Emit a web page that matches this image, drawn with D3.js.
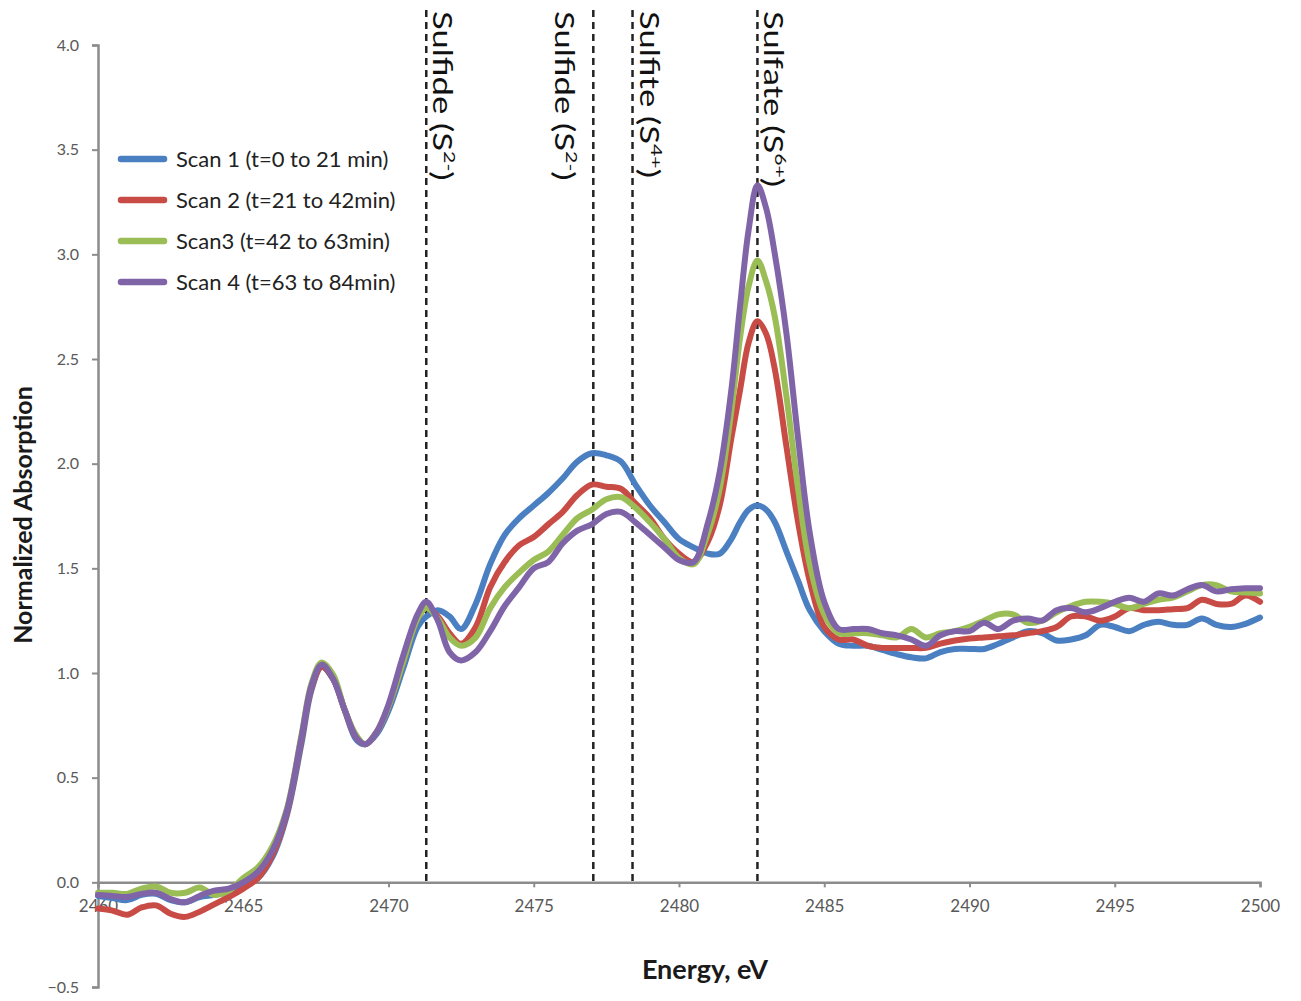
<!DOCTYPE html>
<html>
<head>
<meta charset="utf-8">
<script src="https://cdn.jsdelivr.net/npm/d3@7"></script>
<style>
  body { margin: 0; background: #fff; }
  svg { display: block; }
</style>
</head>
<body>
<svg id="chart" width="1301" height="1001"></svg>
<script>
// ---------- DATA ----------
const energy = [2460, 2460.5, 2461, 2461.5, 2462, 2462.5, 2463, 2463.5, 2464, 2464.5, 2465, 2465.5, 2466, 2466.5, 2467, 2467.35, 2467.7, 2468.1, 2468.5, 2468.9, 2469.2, 2469.6, 2470, 2470.5, 2471, 2471.3, 2471.7, 2472.1, 2472.5, 2473, 2473.5, 2474, 2474.5, 2475, 2475.5, 2476, 2476.5, 2477, 2477.5, 2478, 2478.5, 2479, 2479.5, 2480, 2480.5, 2481, 2481.4, 2481.8, 2482.1, 2482.4, 2482.7, 2483, 2483.3, 2483.7, 2484.1, 2484.5, 2485, 2485.5, 2486, 2486.5, 2487, 2487.5, 2488, 2488.5, 2489, 2489.5, 2490, 2490.5, 2491, 2491.5, 2492, 2492.5, 2493, 2493.5, 2494, 2494.5, 2495, 2495.5, 2496, 2496.5, 2497, 2497.5, 2498, 2498.5, 2499, 2499.5, 2500];

const scan1 = [-0.065, -0.075, -0.085, -0.06, -0.055, -0.085, -0.095, -0.07, -0.06, -0.045, -0.01, 0.02, 0.12, 0.32, 0.66, 0.92, 1.03, 0.97, 0.82, 0.68, 0.66, 0.71, 0.82, 1.02, 1.22, 1.27, 1.30, 1.27, 1.21, 1.33, 1.52, 1.66, 1.74, 1.80, 1.86, 1.93, 2.01, 2.05, 2.04, 2.01, 1.90, 1.80, 1.72, 1.64, 1.60, 1.57, 1.57, 1.64, 1.72, 1.78, 1.80, 1.78, 1.72, 1.58, 1.44, 1.30, 1.20, 1.14, 1.13, 1.13, 1.11, 1.09, 1.075, 1.07, 1.10, 1.115, 1.115, 1.115, 1.14, 1.17, 1.20, 1.19, 1.155, 1.16, 1.18, 1.23, 1.22, 1.20, 1.23, 1.245, 1.23, 1.23, 1.26, 1.23, 1.22, 1.235, 1.265];

const scan2 = [-0.125, -0.135, -0.155, -0.12, -0.11, -0.15, -0.165, -0.14, -0.105, -0.07, -0.03, 0.02, 0.13, 0.33, 0.68, 0.93, 1.03, 0.97, 0.82, 0.69, 0.66, 0.72, 0.84, 1.05, 1.26, 1.31, 1.27, 1.19, 1.14, 1.22, 1.41, 1.53, 1.61, 1.65, 1.71, 1.77, 1.85, 1.90, 1.89, 1.88, 1.81, 1.74, 1.64, 1.57, 1.53, 1.63, 1.80, 2.12, 2.35, 2.58, 2.68, 2.62, 2.45, 2.08, 1.72, 1.44, 1.22, 1.16, 1.16, 1.13, 1.12, 1.12, 1.12, 1.12, 1.14, 1.155, 1.165, 1.17, 1.175, 1.18, 1.19, 1.20, 1.22, 1.27, 1.27, 1.25, 1.27, 1.31, 1.30, 1.30, 1.305, 1.31, 1.35, 1.33, 1.33, 1.37, 1.34];

const scan3 = [-0.05, -0.05, -0.055, -0.03, -0.02, -0.05, -0.05, -0.025, -0.06, -0.04, 0.02, 0.07, 0.17, 0.35, 0.70, 0.95, 1.05, 0.99, 0.82, 0.70, 0.66, 0.72, 0.84, 1.05, 1.26, 1.31, 1.26, 1.17, 1.13, 1.17, 1.31, 1.41, 1.48, 1.54, 1.58, 1.66, 1.74, 1.78, 1.83, 1.84, 1.79, 1.72, 1.64, 1.55, 1.52, 1.67, 1.88, 2.25, 2.60, 2.85, 2.97, 2.87, 2.70, 2.32, 1.88, 1.52, 1.28, 1.19, 1.19, 1.19, 1.18, 1.17, 1.21, 1.17, 1.19, 1.20, 1.22, 1.25, 1.28, 1.28, 1.24, 1.25, 1.29, 1.32, 1.34, 1.34, 1.33, 1.31, 1.33, 1.35, 1.36, 1.39, 1.42, 1.42, 1.39, 1.385, 1.38];

const scan4 = [-0.06, -0.065, -0.07, -0.055, -0.05, -0.08, -0.095, -0.065, -0.04, -0.03, 0.0, 0.05, 0.15, 0.34, 0.69, 0.94, 1.04, 0.97, 0.82, 0.69, 0.66, 0.72, 0.85, 1.08, 1.28, 1.34, 1.25, 1.10, 1.06, 1.10, 1.20, 1.32, 1.41, 1.50, 1.53, 1.62, 1.68, 1.71, 1.76, 1.77, 1.72, 1.66, 1.60, 1.54, 1.53, 1.72, 1.96, 2.35, 2.75, 3.12, 3.33, 3.22, 3.00, 2.62, 2.12, 1.67, 1.34, 1.21, 1.21, 1.21, 1.19, 1.18, 1.16, 1.13, 1.18, 1.20, 1.20, 1.24, 1.21, 1.25, 1.26, 1.25, 1.30, 1.31, 1.29, 1.31, 1.34, 1.36, 1.34, 1.38, 1.37, 1.40, 1.42, 1.39, 1.40, 1.405, 1.405];

const seriesNames = ["Scan 1 (t=0 to 21 min)", "Scan 2 (t=21 to 42min)", "Scan3 (t=42 to 63min)", "Scan 4 (t=63 to 84min)"];
const seriesColors = ["#4a7fc1", "#c84c45", "#9bbd56", "#8064a8"];

const yTicks = [-0.5, 0.0, 0.5, 1.0, 1.5, 2.0, 2.5, 3.0, 3.5, 4.0];
const xTicks = [2460, 2465, 2470, 2475, 2480, 2485, 2490, 2495, 2500];

const markerEnergies = [2471.3, 2477.05, 2478.4, 2482.7];
const markerLabels = [["Sulfide (S", "2-", ")"], ["Sulfide (S", "2-", ")"], ["Sulfite (S", "4+", ")"], ["Sulfate (S", "6+", ")"]];
const markerSide = ["right", "left", "right", "right"];

// ---------- CHART ----------
const svg = d3.select("#chart");
const font = "Lato, 'Open Sans', sans-serif";

const x = d3.scaleLinear().domain([2460, 2500]).range([98, 1260]);
const y = d3.scaleLinear().domain([-0.5, 4.0]).range([987, 45]);

// Y axis
const yAxis = d3.axisLeft(y).tickValues(yTicks).tickFormat(d3.format(".1f")).tickSize(6).tickPadding(13);
const gy = svg.append("g").attr("transform", `translate(${x(2460)},0)`).call(yAxis);
gy.select(".domain").attr("stroke", "#8c8c8c").attr("stroke-width", 2.5);
gy.selectAll(".tick line").attr("stroke", "#8c8c8c").attr("stroke-width", 2);
gy.selectAll(".tick text").attr("fill", "#595959").style("font-family", font).style("font-size", "16px");

// X axis at y=0
const xAxis = d3.axisBottom(x).tickValues(xTicks).tickFormat(d3.format("d")).tickSize(5).tickPadding(13);
const gx = svg.append("g").attr("transform", `translate(0,${y(0)})`).call(xAxis);
gx.select(".domain").attr("stroke", "#8c8c8c").attr("stroke-width", 2.5);
gx.selectAll(".tick line").attr("stroke", "#8c8c8c").attr("stroke-width", 2);
gx.selectAll(".tick text").attr("fill", "#595959").style("font-family", font).style("font-size", "17px");

// Axis titles
svg.append("text")
  .attr("transform", `translate(32,515) rotate(-90)`)
  .attr("text-anchor", "middle")
  .style("font-family", font).style("font-weight", "bold").style("font-size", "25px")
  .attr("fill", "#1a1a1a")
  .text("Normalized Absorption");

svg.append("text")
  .attr("x", 705).attr("y", 979)
  .attr("text-anchor", "middle")
  .style("font-family", font).style("font-weight", "bold").style("font-size", "27px")
  .attr("fill", "#1a1a1a")
  .text("Energy, eV");

// Dashed marker lines
svg.append("g").selectAll("line").data(markerEnergies).join("line")
  .attr("x1", d => x(d)).attr("x2", d => x(d))
  .attr("y1", 10).attr("y2", y(0))
  .attr("stroke", "#222").attr("stroke-width", 2.5)
  .attr("stroke-dasharray", "7,5");

// Curves
const line = d3.line().curve(d3.curveCatmullRom.alpha(0.5))
  .x((d, i) => x(energy[i])).y(d => y(d));
const allSeries = [scan1, scan2, scan3, scan4];
svg.append("g").selectAll("path").data(allSeries).join("path")
  .attr("d", d => line(d))
  .attr("fill", "none")
  .attr("stroke", (d, i) => seriesColors[i])
  .attr("stroke-width", 6)
  .attr("stroke-linejoin", "round")
  .attr("stroke-linecap", "round");

// Marker labels (rotated 90deg, reading downward)
markerEnergies.forEach((e, i) => {
  const bx = markerSide[i] === "right" ? x(e) + 7 : x(e) - 38;
  const t = svg.append("text")
    .attr("transform", `translate(${bx},11) rotate(90) scale(1.33,1)`)
    .style("font-family", font).style("font-size", "26px")
    .attr("fill", "#111");
  t.append("tspan").text(markerLabels[i][0]);
  t.append("tspan").attr("dy", -11).style("font-size", "16px").text(markerLabels[i][1]);
  t.append("tspan").attr("dy", 11).text(markerLabels[i][2]);
});

// Legend
const legendY = [159, 200, 241, 282];
const lg = svg.append("g");
seriesNames.forEach((name, i) => {
  lg.append("line")
    .attr("x1", 121).attr("x2", 164)
    .attr("y1", legendY[i]).attr("y2", legendY[i])
    .attr("stroke", seriesColors[i]).attr("stroke-width", 6.5)
    .attr("stroke-linecap", "round");
  lg.append("text")
    .attr("x", 176).attr("y", legendY[i] + 7.5)
    .style("font-family", font).style("font-size", "22px")
    .attr("fill", "#222")
    .text(name);
});
</script>
</body>
</html>
